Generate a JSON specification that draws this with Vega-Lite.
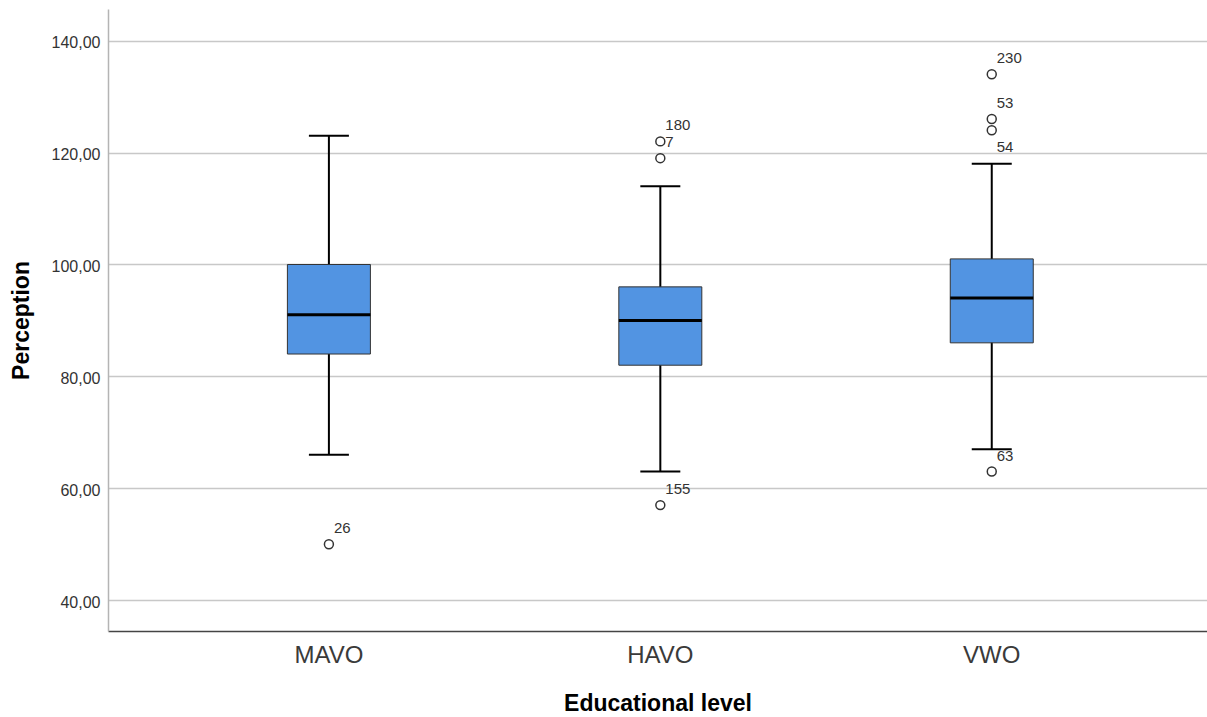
{
  "$schema": "https://vega.github.io/schema/vega-lite/v6.json",
  "width": 1099,
  "height": 622,
  "autosize": {"type": "none"},
  "padding": {"left": 108, "top": 9, "right": 0, "bottom": 86},
  "background": "white",
  "config": {
    "font": "Liberation Sans",
    "view": {"stroke": null}
  },
  "datasets": {
    "boxes": [
      {"level": "MAVO", "lower": 66, "q1": 84, "median": 91, "q3": 100, "upper": 123},
      {"level": "HAVO", "lower": 63, "q1": 82, "median": 90, "q3": 96, "upper": 114},
      {"level": "VWO", "lower": 67, "q1": 86, "median": 94, "q3": 101, "upper": 118}
    ],
    "outliers": [
      {"level": "MAVO", "value": 50, "case": "26"},
      {"level": "HAVO", "value": 122, "case": "180"},
      {"level": "HAVO", "value": 119, "case": "7"},
      {"level": "HAVO", "value": 57, "case": "155"},
      {"level": "VWO", "value": 134, "case": "230"},
      {"level": "VWO", "value": 126, "case": "53"},
      {"level": "VWO", "value": 124, "case": "54"},
      {"level": "VWO", "value": 63, "case": "63"}
    ]
  },
  "encoding": {
    "x": {
      "field": "level",
      "type": "nominal",
      "sort": ["MAVO", "HAVO", "VWO"],
      "scale": {"paddingInner": 0, "paddingOuter": 0.158, "align": 0.527},
      "axis": {
        "title": "Educational level",
        "titleFontSize": 23,
        "titleFontWeight": "bold",
        "titleColor": "#000000",
        "titlePadding": 25,
        "labelAngle": 0,
        "labelFontSize": 24,
        "labelColor": "#3a3a3a",
        "labelPadding": 12,
        "ticks": false,
        "grid": false,
        "domainColor": "#444444",
        "domainWidth": 1.5
      }
    }
  },
  "layer": [
    {
      "data": {"name": "boxes"},
      "mark": {"type": "rule", "color": "#000000", "strokeWidth": 2},
      "encoding": {
        "y": {
          "field": "lower",
          "type": "quantitative",
          "scale": {"domain": [34.5, 145.66], "nice": false, "zero": false},
          "axis": {
            "title": "Perception",
            "titleFontSize": 23,
            "titleFontWeight": "bold",
            "titleColor": "#000000",
            "titlePadding": 18,
            "values": [40, 60, 80, 100, 120, 140],
            "labelExpr": "replace(format(datum.value, '.2f'), '.', ',')",
            "labelFontSize": 16,
            "labelColor": "#333333",
            "labelPadding": 8,
            "labelOffset": 2,
            "ticks": false,
            "grid": true,
            "gridColor": "#c8c8c8",
            "gridWidth": 1.5,
            "domainColor": "#b4b4b4",
            "domainWidth": 1.5
          }
        },
        "y2": {"field": "upper"}
      }
    },
    {
      "data": {"name": "boxes"},
      "mark": {"type": "tick", "color": "#000000", "opacity": 1, "size": 40, "thickness": 2},
      "encoding": {"y": {"field": "lower", "type": "quantitative"}}
    },
    {
      "data": {"name": "boxes"},
      "mark": {"type": "tick", "color": "#000000", "opacity": 1, "size": 40, "thickness": 2},
      "encoding": {"y": {"field": "upper", "type": "quantitative"}}
    },
    {
      "data": {"name": "boxes"},
      "mark": {"type": "bar", "size": 83, "fill": "#5294e2", "stroke": "#333333", "strokeWidth": 1},
      "encoding": {
        "y": {"field": "q1", "type": "quantitative"},
        "y2": {"field": "q3"}
      }
    },
    {
      "data": {"name": "boxes"},
      "mark": {"type": "tick", "color": "#000000", "opacity": 1, "size": 83, "thickness": 3},
      "encoding": {"y": {"field": "median", "type": "quantitative"}}
    },
    {
      "data": {"name": "outliers"},
      "mark": {"type": "point", "shape": "circle", "filled": false, "stroke": "#333333", "strokeWidth": 1.5, "opacity": 1, "size": 80},
      "encoding": {"y": {"field": "value", "type": "quantitative"}}
    },
    {
      "data": {"name": "outliers"},
      "transform": [{"filter": "datum.case != '54'"}],
      "mark": {"type": "text", "align": "left", "baseline": "alphabetic", "dx": 5, "dy": -11, "fontSize": 15, "color": "#333333"},
      "encoding": {
        "y": {"field": "value", "type": "quantitative"},
        "text": {"field": "case"}
      }
    },
    {
      "data": {"name": "outliers"},
      "transform": [{"filter": "datum.case == '54'"}],
      "mark": {"type": "text", "align": "left", "baseline": "alphabetic", "dx": 5, "dy": 22, "fontSize": 15, "color": "#333333"},
      "encoding": {
        "y": {"field": "value", "type": "quantitative"},
        "text": {"field": "case"}
      }
    }
  ]
}
